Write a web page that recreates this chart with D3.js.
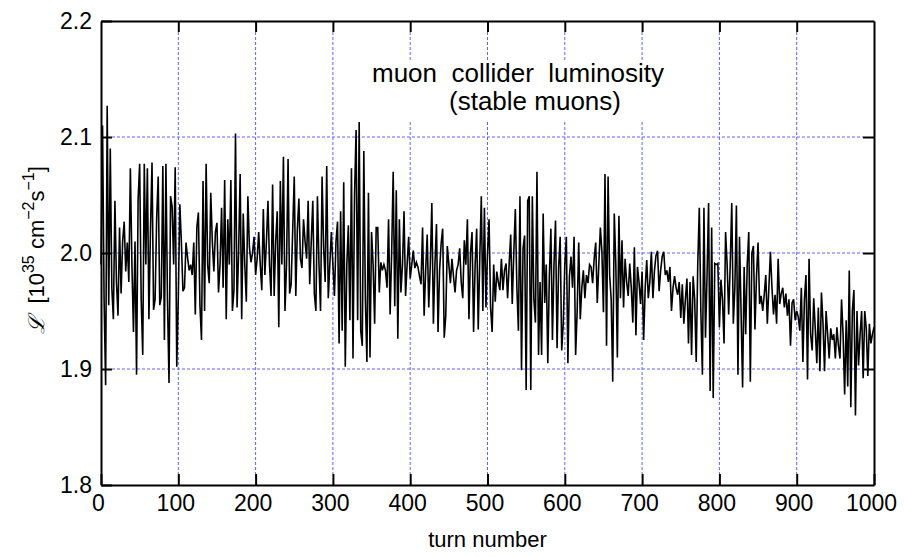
<!DOCTYPE html>
<html>
<head>
<meta charset="utf-8">
<script src="https://cdn.jsdelivr.net/npm/d3@7"></script>
<style>
  body { margin: 0; background: #fff; }
  svg { display: block; font-family: "Liberation Sans", Arial, sans-serif; }
</style>
</head>
<body>
<div id="chart"></div>
<script>
"use strict";

// --- DATA (one sample every 2 turns) ---
const TURN_START = 0, TURN_STEP = 2;
const lum = [
  1.990, 2.110, 1.960, 1.886, 2.127, 1.955, 2.090, 1.970, 1.943, 2.045,
  1.975, 1.946, 2.022, 1.965, 2.010, 2.027, 1.984, 2.009, 1.975, 2.073,
  1.990, 1.932, 2.010, 1.895, 2.046, 2.077, 1.960, 1.912, 2.077, 1.990,
  2.073, 1.943, 2.020, 2.078, 1.951, 1.960, 2.030, 2.066, 1.955, 1.962,
  2.075, 1.925, 2.077, 1.960, 1.888, 2.049, 2.040, 1.990, 2.074, 1.902,
  1.961, 2.042, 2.009, 1.967, 1.970, 2.009, 1.996, 1.985, 1.990, 1.981,
  2.009, 1.947, 2.022, 2.035, 1.955, 1.925, 2.062, 1.950, 2.077, 1.990,
  1.974, 2.052, 2.010, 1.984, 2.018, 2.026, 1.966, 1.990, 2.039, 1.970,
  2.063, 1.943, 2.029, 1.990, 2.063, 1.950, 1.968, 2.103, 1.953, 2.000,
  2.068, 1.943, 2.034, 1.990, 1.958, 2.049, 2.005, 1.992, 2.000, 2.014,
  1.981, 1.995, 2.018, 1.990, 1.968, 2.038, 1.981, 2.010, 2.045, 1.990,
  1.963, 2.059, 1.963, 2.010, 2.036, 1.936, 2.062, 1.990, 2.083, 1.950,
  1.990, 2.081, 1.965, 1.973, 2.020, 2.066, 1.963, 2.020, 2.047, 1.995,
  1.987, 2.029, 2.010, 1.995, 2.045, 1.973, 2.010, 2.045, 1.965, 1.950,
  2.049, 1.990, 1.950, 2.066, 2.005, 1.975, 2.075, 1.961, 1.990, 2.018,
  1.990, 1.963, 2.010, 2.027, 1.922, 2.036, 1.933, 2.061, 1.902, 1.990,
  2.024, 1.942, 2.073, 1.909, 2.050, 2.106, 1.942, 2.113, 1.933, 1.920,
  2.088, 1.960, 1.906, 2.052, 1.910, 2.018, 1.990, 1.939, 2.022, 2.022,
  1.966, 1.992, 1.985, 1.990, 1.985, 1.970, 2.029, 1.947, 2.000, 2.070,
  1.954, 2.054, 1.926, 2.029, 1.966, 1.990, 2.036, 1.963, 1.990, 2.014,
  1.978, 1.990, 2.002, 1.987, 1.992, 1.988, 1.980, 1.973, 2.022, 1.946,
  1.985, 2.016, 1.953, 1.990, 2.043, 1.939, 1.990, 2.025, 1.932, 1.985,
  2.008, 2.021, 1.927, 1.946, 2.006, 1.990, 1.974, 1.995, 1.980, 1.966,
  1.985, 1.990, 2.004, 1.975, 1.961, 2.011, 1.990, 2.029, 1.943, 2.000,
  2.018, 1.932, 1.990, 2.021, 1.934, 1.995, 2.049, 1.950, 2.039, 1.953,
  2.000, 2.029, 1.953, 1.932, 1.990, 1.958, 1.984, 1.975, 1.968, 1.995,
  1.968, 1.985, 1.991, 1.961, 1.990, 2.016, 1.956, 2.000, 2.038, 1.970,
  1.933, 2.049, 1.899, 2.004, 2.015, 1.882, 2.045, 2.049, 1.882, 2.049,
  1.960, 1.940, 2.070, 1.912, 1.975, 1.912, 2.034, 1.957, 1.990, 1.905,
  1.980, 2.021, 1.925, 1.990, 2.028, 1.918, 1.987, 2.014, 1.916, 1.939,
  1.990, 2.014, 1.905, 1.980, 1.997, 1.970, 2.014, 1.912, 1.950, 2.009,
  1.943, 1.970, 1.985, 1.961, 1.981, 1.974, 1.990, 1.988, 1.974, 1.995,
  2.009, 1.957, 1.990, 2.022, 2.001, 1.949, 2.068, 1.920, 2.066, 1.981,
  1.960, 1.889, 2.034, 1.990, 1.910, 2.032, 1.961, 2.011, 1.953, 1.995,
  1.975, 1.963, 1.991, 1.970, 1.940, 2.005, 1.929, 1.988, 1.975, 1.956,
  1.984, 1.925, 1.970, 1.994, 1.961, 1.975, 2.001, 1.961, 1.985, 1.998,
  2.002, 1.967, 1.985, 1.997, 2.001, 1.981, 1.985, 1.975, 1.988, 1.950,
  1.970, 1.980, 1.970, 1.964, 1.975, 1.944, 1.973, 1.939, 1.960, 1.978,
  1.922, 1.975, 1.912, 1.980, 1.960, 1.906, 1.990, 2.039, 1.950, 1.895,
  2.039, 1.927, 1.980, 2.043, 1.881, 2.022, 1.875, 1.991, 1.990, 1.991,
  1.936, 1.977, 1.960, 1.922, 2.018, 1.990, 1.947, 1.990, 2.043, 1.939,
  1.970, 2.041, 1.895, 2.014, 1.950, 1.884, 1.988, 1.930, 1.990, 2.018,
  1.889, 2.000, 2.006, 1.934, 1.980, 2.009, 1.956, 1.963, 1.950, 1.964,
  1.981, 1.939, 1.970, 2.001, 1.970, 1.947, 1.964, 1.939, 1.995, 1.956,
  1.965, 1.970, 1.953, 1.965, 1.946, 1.960, 1.920, 1.957, 1.960, 1.942,
  1.950, 1.945, 1.933, 1.970, 1.906, 1.960, 1.981, 1.891, 1.995, 1.930,
  1.916, 1.961, 1.935, 1.905, 1.953, 1.898, 1.966, 1.940, 1.898, 1.950,
  1.930, 1.909, 1.935, 1.925, 1.930, 1.909, 1.936, 1.920, 1.909, 1.960,
  1.930, 1.878, 1.942, 1.885, 1.985, 1.867, 1.950, 1.968, 1.860, 1.950,
  1.903, 1.930, 1.950, 1.892, 1.950, 1.935, 1.894, 1.939, 1.922, 1.930,
  1.936
];
const xTicks = [0, 100, 200, 300, 400, 500, 600, 700, 800, 900, 1000];
const yTicks = [1.8, 1.9, 2.0, 2.1, 2.2];
const titleLines = ["muon  collider  luminosity", "(stable muons)"];

// --- LAYOUT ---
const W = 904, H = 557;
const P = { left: 101, right: 874, top: 21, bottom: 485 };
const TICK = 11;

const svg = d3.select("#chart").append("svg").attr("width", W).attr("height", H);

const x = d3.scaleLinear().domain([0, 1000]).range([P.left, P.right]);
const y = d3.scaleLinear().domain([1.8, 2.2]).range([P.bottom, P.top]);

// Grid (dotted blue, between the inward tick ends)
const grid = svg.append("g").attr("stroke", "#6262ff").attr("stroke-width", 1).attr("stroke-dasharray", "3,2");
grid.selectAll(".gx").data(xTicks.slice(1, -1)).enter().append("line")
    .attr("x1", d => x(d)).attr("x2", d => x(d))
    .attr("y1", P.top + TICK).attr("y2", P.bottom - TICK);
grid.selectAll(".gy").data(yTicks.slice(1, -1)).enter().append("line")
    .attr("x1", P.left + TICK).attr("x2", P.right - TICK)
    .attr("y1", d => y(d)).attr("y2", d => y(d));

// White box behind the title text
svg.append("rect").attr("x", 365).attr("y", 60).attr("width", 305).attr("height", 60).attr("fill", "#fff");

// Title
svg.append("text").attr("x", 372).attr("y", 82).attr("font-size", 26)
    .style("white-space", "pre").text(titleLines[0]);
svg.append("text").attr("x", 449).attr("y", 110).attr("font-size", 26).text(titleLines[1]);

// Data line
const line = d3.line().x((d, i) => x(TURN_START + i * TURN_STEP)).y(d => y(d));
svg.append("path").datum(lum)
    .attr("fill", "none").attr("stroke", "#000").attr("stroke-width", 1.6)
    .attr("stroke-linejoin", "miter").attr("d", line);

// Axes (ticks inward on all four sides)
const styleAxis = (sel) => {
    sel.select(".domain").attr("stroke", "#000").attr("stroke-width", 2);
    sel.selectAll(".tick line").attr("stroke", "#000").attr("stroke-width", 2);
    sel.selectAll("text").attr("fill", "#000").attr("font-size", 23).attr("font-family", "Liberation Sans, Arial, sans-serif");
};

svg.append("g").attr("transform", `translate(0,${P.bottom})`)
    .call(d3.axisBottom(x).tickValues(xTicks).tickSizeInner(-TICK).tickSizeOuter(0).tickPadding(10).tickFormat(d3.format("d")))
    .call(styleAxis)
    .call(g => g.selectAll("text").attr("dx", -3));

svg.append("g").attr("transform", `translate(0,${P.top})`)
    .call(d3.axisTop(x).tickValues(xTicks.slice(1, -1)).tickSizeInner(-TICK).tickSizeOuter(0).tickFormat(""))
    .call(styleAxis);

svg.append("g").attr("transform", `translate(${P.left},0)`)
    .call(d3.axisLeft(y).tickValues(yTicks).tickSizeInner(-TICK).tickSizeOuter(0).tickPadding(9).tickFormat(d3.format(".1f")))
    .call(styleAxis);

svg.append("g").attr("transform", `translate(${P.right},0)`)
    .call(d3.axisRight(y).tickValues(yTicks.slice(1, -1)).tickSizeInner(-TICK).tickSizeOuter(0).tickFormat(""))
    .call(styleAxis);

// x label
svg.append("text").attr("x", (P.left + P.right) / 2).attr("y", 547)
    .attr("text-anchor", "middle").attr("font-size", 22).text("turn number");

// y label with superscripts
const yl = svg.append("text").attr("transform", "translate(44,250) rotate(-90)")
    .attr("text-anchor", "middle").attr("font-size", 22).attr("fill", "#000")
    .style("white-space", "pre");
yl.append("tspan").attr("font-family", "DejaVu Serif, serif").attr("font-style", "italic").text("ℒ");
yl.append("tspan").text("  [10");
yl.append("tspan").attr("font-size", 16).attr("dy", -10).text("35");
yl.append("tspan").attr("dy", 10).text(" cm");
yl.append("tspan").attr("font-size", 16).attr("dy", -10).text("−2");
yl.append("tspan").attr("dy", 10).text("s");
yl.append("tspan").attr("font-size", 16).attr("dy", -10).text("−1");
yl.append("tspan").attr("dy", 10).text("]");
</script>
</body>
</html>
